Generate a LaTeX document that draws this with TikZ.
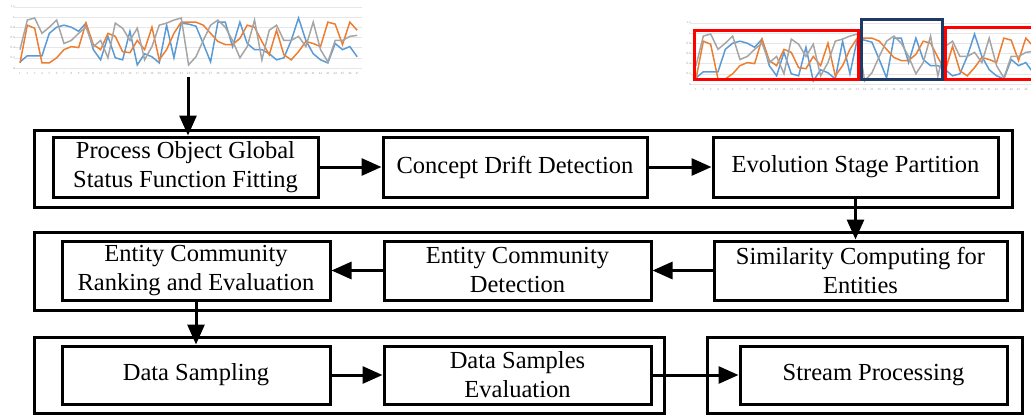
\documentclass[tikz,border=0pt]{standalone}
\usepackage{fontspec}
\setmainfont{Liberation Serif}
\usetikzlibrary{arrows.meta}

\definecolor{serblue}{HTML}{5B9BD5}
\definecolor{serorange}{HTML}{ED7D31}
\definecolor{sergray}{HTML}{A5A5A5}
\definecolor{gridgray}{HTML}{E6E6E6}
\definecolor{labgray}{HTML}{9A9A9A}
\definecolor{winred}{HTML}{FF0000}
\definecolor{winnavy}{HTML}{1F3864}

\newcommand\procfont{\fontsize{24.5}{29}\selectfont}
\newcommand\ticksize{\fontsize{3.2}{4}\selectfont}

% the same trend chart is used twice, #1 = last tick shown
\newcommand\trendchart[1]{%
  \foreach \g in {0,...,6}
    \draw[gridgray, line width=0.6pt] (-0.8,\g) -- (46.7,\g);
  \foreach \g/\lab in {0/0,1/0.2,2/0.4,3/0.6,4/0.8,5/1,6/1.2}
    \node[labgray, font=\ticksize, anchor=east, inner sep=0pt] (yl\g) at (-0.7,\g) {\lab};
  \foreach \i in {0,...,#1}
    \node[labgray, font=\ticksize, inner sep=0pt] (xl\i) at (\i,-0.5) {\the\numexpr\i+1\relax};
  \draw[serblue, line width=1.5pt] plot coordinates {
    (0,0.6) (1,1.2) (2,1.2) (3,1.2) (4,3.4) (5,4.0) (6,4.2) (7,4.0) (8,3.6) (9,4.4)
    (10,1.8) (11,0.8) (12,3.1) (13,1.0) (14,0.8) (15,3.6) (16,0.3) (17,1.4) (18,1.1) (19,0.5)
    (20,4.2) (21,1.0) (22,4.4) (23,4.3) (24,4.1) (25,2.4) (26,0.6) (27,4.5) (28,4.5) (29,2.1)
    (30,4.5) (31,2.4) (32,1.8) (33,1.8) (34,1.4) (35,0.8) (36,1.0) (37,2.7) (38,4.9) (39,2.7)
    (40,1.4) (41,0.8) (42,0.5) (43,2.4) (44,1.8) (45,2.1) (46,1.1)};
  \draw[serorange, line width=1.5pt] plot coordinates {
    (0,0.5) (1,4.2) (2,3.9) (3,0.5) (4,0.5) (5,1.0) (6,1.8) (7,2.1) (8,2.0) (9,4.4)
    (10,2.3) (11,1.8) (12,3.4) (13,3.1) (14,1.6) (15,1.5) (16,2.7) (17,1.8) (18,4.0) (19,0.8)
    (20,1.8) (21,3.4) (22,4.5) (23,4.5) (24,4.5) (25,4.2) (26,3.4) (27,2.6) (28,2.3) (29,2.3)
    (30,2.9) (31,4.2) (32,4.0) (33,2.6) (34,1.3) (35,3.7) (36,1.3) (37,0.8) (38,1.6) (39,2.6)
    (40,2.4) (41,2.1) (42,4.5) (43,4.3) (44,2.3) (45,4.5) (46,3.7)};
  \draw[sergray, line width=1.5pt] plot coordinates {
    (0,1.8) (1,4.7) (2,4.9) (3,3.4) (4,4.0) (5,4.7) (6,2.4) (7,2.7) (8,3.4) (9,4.0)
    (10,2.1) (11,2.7) (12,1.0) (13,4.4) (14,3.9) (15,2.7) (16,3.9) (17,0.8) (18,2.1) (19,4.2)
    (20,4.4) (21,4.7) (22,4.9) (23,0.3) (24,1.1) (25,2.7) (26,4.2) (27,4.7) (28,4.0) (29,2.7)
    (30,1.0) (31,2.1) (32,4.7) (33,0.8) (34,3.7) (35,4.2) (36,2.7) (37,2.7) (38,3.1) (39,2.1)
    (40,4.5) (41,1.8) (42,0.6) (43,2.7) (44,2.7) (45,3.1) (46,3.2)};
}

\begin{document}
\begin{tikzpicture}[
  x=1pt, y=-1pt,
  proc/.style={draw, line width=3pt, minimum height=60pt, align=center,
    inner sep=2pt, font=\procfont},
  grp/.style={draw, line width=3pt},
  flow/.style={-{Triangle[length=20pt,width=17pt]}, line width=3pt},
  win/.style={line width=3pt}
]
  \useasboundingbox (0,0) rectangle (1031,415);

  % input chart
  \begin{scope}[shift={(20,68)}, xscale=7.33, yscale=-10.2]
    \trendchart{46}
  \end{scope}
  \coordinate (chartout) at (188,77);

  % partitioned chart
  \begin{scope}
    \clip (680,0) rectangle (1031,100);
    \begin{scope}[shift={(696,84)}, xscale=7.33, yscale=-10.2]
      \trendchart{45}
    \end{scope}
    \draw[win, winred] (694,30) rectangle (858,79);
    \draw[win, winnavy] (861,19) rectangle (942,79);
    \draw[win, winred] (945,27) rectangle (1045,79);
  \end{scope}

  % groups
  \draw[grp] (34,130) rectangle (1012,207);
  \draw[grp] (34,232) rectangle (1022,310);
  \draw[grp] (34,337) rectangle (664,413);
  \draw[grp] (707,337) rectangle (1022,413);

  % steps
  \node[proc, minimum width=265pt] (fit)    at (185.5,167) {Process Object Global\\Status Function Fitting};
  \node[proc, minimum width=264pt] (drift)  at (515,167)   {Concept Drift Detection};
  \node[proc, minimum width=285pt] (stage)  at (855.5,167) {Evolution Stage Partition};
  \node[proc, minimum width=268pt, minimum height=59pt] (rank)   at (196,270.5) {Entity Community\\Ranking and Evaluation};
  \node[proc, minimum width=267pt, minimum height=59pt] (detect) at (517.5,270.5) {Entity Community\\Detection};
  \node[proc, minimum width=293pt, minimum height=59pt] (simil)  at (860.5,270.5) {Similarity Computing for\\Entities};
  \node[proc, minimum width=268pt, minimum height=58pt] (sampl)  at (196,375)   {Data Sampling};
  \node[proc, minimum width=267pt, minimum height=58pt] (seval)  at (517.5,375) {Data Samples\\Evaluation};
  \node[proc, minimum width=267pt, minimum height=58pt] (stream) at (873.5,375) {Stream Processing};

  \draw[flow] (chartout) -- (chartout |- fit.north);
  \draw[flow] (fit) -- (drift);
  \draw[flow] (drift) -- (stage);
  \draw[flow] (stage.south) -- (stage.south |- simil.north);
  \draw[flow] (simil) -- (detect);
  \draw[flow] (detect) -- (rank);
  \draw[flow] (rank) -- (sampl);
  \draw[flow] (sampl) -- (seval);
  \draw[flow] (seval) -- (stream);
\end{tikzpicture}
\end{document}
